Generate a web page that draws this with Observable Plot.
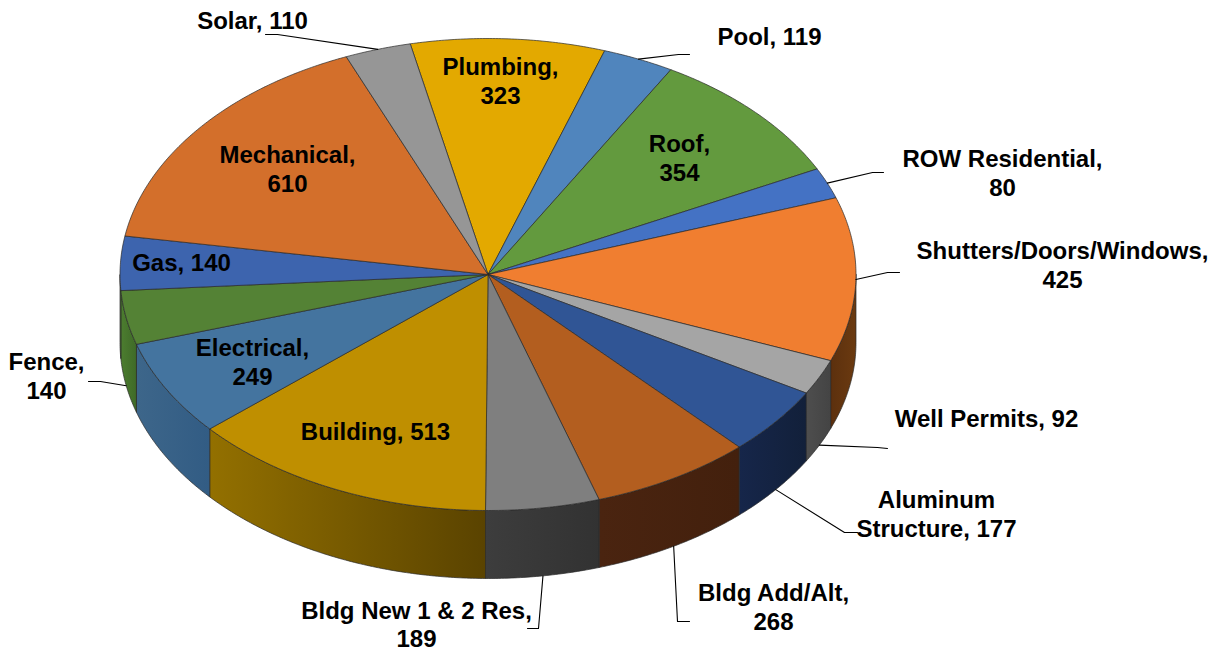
<!DOCTYPE html>
<html><head><meta charset="utf-8">
<style>html,body{margin:0;padding:0;background:#fff}svg{display:block}</style>
<script src="https://cdn.jsdelivr.net/npm/d3@7"></script>
<script src="https://cdn.jsdelivr.net/npm/@observablehq/plot@0.6"></script>
</head><body><div id="chart"></div>
<script>
// Data, clockwise from the Plumbing slice
const categories = ["Plumbing","Pool","Roof","ROW Residential","Shutters/Doors/Windows","Well Permits","Aluminum Structure","Bldg Add/Alt","Bldg New 1 & 2 Res","Building","Electrical","Fence","Gas","Mechanical","Solar"];
const permits = [323,119,354,80,425,92,177,268,189,513,249,140,140,610,110];
const labelLines = ["Plumbing,\n323","Pool, 119","Roof,\n354","ROW Residential,\n80","Shutters/Doors/Windows,\n425","Well Permits, 92","Aluminum\nStructure, 177","Bldg Add/Alt,\n268","Bldg New 1 & 2 Res,\n189","Building, 513","Electrical,\n249","Fence,\n140","Gas, 140","Mechanical,\n610","Solar, 110"];
const topColors = ["#e3a900","#5085bd","#639a3e","#4472c4","#f07e30","#a5a5a5","#305595","#b35e1f","#7f7f7f","#bf8f00","#44749f","#548235","#3d64ae","#d36f2b","#969696"];
const wallColors = [null,null,null,null,["#5c300e","#6b3a10"],["#4e4e4e","#444444"],["#16264a","#12203a"],["#4a2410","#43200d"],["#3d3d3d","#323232"],["#937000","#5a4300"],["#3d668a","#325c84"],["#4c7d2f","#3f6a28"],["#4c7d2f","#4c7d2f"],null,null];

// Layout of the tilted disc (px)
const cx = 487.5, cy = 274, rx = 368, ry = 236, wall = 68, startAngle = -12.2;
// Label centres and leader bends (px)
const labelAt = [[500,80],[769,35],[679,157],[1002,172],[1062,264],[986,417],[936,513],[773,606],[416,623.5],[375,430],[252,361],[46,375],[181,261],[287,168],[252,19]];
const leaderPath = {
  1:[[678,54],[689,54]], 3:[[872,172],[883,172]], 4:[[887,272],[899,272]], 5:[[877,447],[887,448]],
  6:[[844,532],[857,532]], 7:[[677,621],[689,621]], 8:[[538,628],[527,628]], 11:[[100,381],[88,381]], 14:[[277,34],[265,34]]
};
const leaderOnWall = new Set([5,6,7,8,11]);

const total = d3.sum(permits);
const rim = (deg, drop = 0) => {
  const t = deg * Math.PI / 180;
  return {x: cx + rx * Math.sin(t), y: cy - ry * Math.cos(t) + drop};
};
const arc = (a0, a1, drop = 0) => {
  const n = Math.max(2, Math.ceil(Math.abs(a1 - a0) * 2));
  return d3.range(n + 1).map(i => rim(a0 + (a1 - a0) * i / n, drop));
};
let acc = startAngle;
const slices = permits.map((v, i) => {
  const a0 = acc, a1 = acc + v / total * 360; acc = a1;
  return {i, a0, a1, mid: (a0 + a1) / 2};
});
const EDGE = "#2a2a2a", EW = 0.7;
const xy = {x: "x", y: "y"};

const marks = [];
// gradient definitions for the wall
marks.push(() => {
  const defs = d3.create("svg:defs");
  wallColors.forEach((c, i) => {
    if (!c) return;
    const g = defs.append("linearGradient").attr("id", "wall" + i).attr("x1", 0).attr("x2", 1).attr("y1", 0).attr("y2", 0);
    g.append("stop").attr("offset", "0").attr("stop-color", c[0]);
    g.append("stop").attr("offset", "1").attr("stop-color", c[1]);
  });
  return defs.node();
});
// outer wall: only the near half of the rim is visible
for (const s of slices) {
  const a0 = Math.max(s.a0, 90), a1 = Math.min(s.a1, 270);
  if (a1 <= a0 || !wallColors[s.i]) continue;
  const pts = [...arc(a0, a1), ...arc(a1, a0, wall)];
  pts.push(pts[0]);
  marks.push(Plot.line(pts, {...xy, fill: `url(#wall${s.i})`, stroke: EDGE, strokeWidth: EW, curve: "linear"}));
}
// top face
for (const s of slices) {
  const pts = [{x: cx, y: cy}, ...arc(s.a0, s.a1), {x: cx, y: cy}];
  marks.push(Plot.line(pts, {...xy, fill: topColors[s.i], stroke: EDGE, strokeWidth: EW, curve: "linear"}));
}
// leaders
for (const s of slices) {
  const bend = leaderPath[s.i];
  if (!bend) continue;
  const from = rim(s.mid, leaderOnWall.has(s.i) ? wall : 0);
  const pts = [from, ...bend.map(([x, y]) => ({x, y}))];
  marks.push(Plot.line(pts, {...xy, stroke: "#000", strokeWidth: 1.1, curve: "linear"}));
}
// labels
marks.push(Plot.text(labelLines.map((t, i) => ({t, x: labelAt[i][0], y: labelAt[i][1]})), {
  ...xy, text: "t", fill: "#000", fontSize: 24, fontWeight: "bold",
  fontFamily: "'Liberation Sans', Arial, sans-serif", lineHeight: 1.17, textAnchor: "middle", lineAnchor: "middle"
}));

document.getElementById("chart").append(Plot.plot({
  width: 1226, height: 652, margin: 0,
  x: {domain: [0, 1226], range: [0, 1226], axis: null},
  y: {domain: [0, 652], range: [0, 652], axis: null},
  style: {background: "#fff"},
  marks
}));
</script></body></html>
